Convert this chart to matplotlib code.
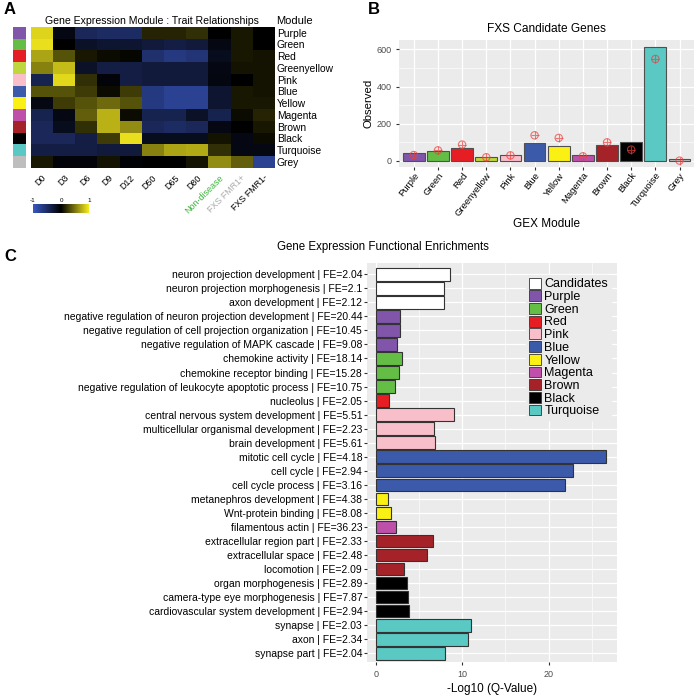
import numpy as np
import matplotlib.pyplot as plt
from matplotlib.colors import LinearSegmentedColormap
from matplotlib.patches import Patch

plt.rcParams['font.family'] = ['Liberation Sans', 'DejaVu Sans']

# --- panel A data ---
modules = ["Purple", "Green", "Red", "Greenyellow", "Pink", "Blue", "Yellow",
           "Magenta", "Brown", "Black", "Turquoise", "Grey"]
module_colors = ["#8055AA", "#64BE46", "#E61E23", "#BED73C", "#F8BECA", "#3C5AAA",
                 "#FAF014", "#BE50AA", "#A52328", "#000000", "#5AC8C3", "#BEBEBE"]
traits = ["D0", "D3", "D6", "D9", "D12", "D50", "D65", "D80",
          "Non-disease", "FXS FMR1+", "FXS FMR1-"]
trait_colors = ["black"] * 8 + ["#3CB43C", "#AAAAAA", "black"]
corr = np.array([
    [0.90, -0.10, -0.45, -0.50, -0.50, 0.15, 0.15, 0.20, 0.00, 0.10, 0.00],
    [0.95, 0.00, -0.20, -0.25, -0.25, -0.30, -0.35, -0.30, -0.10, 0.10, 0.00],
    [0.70, 0.35, 0.10, 0.05, 0.03, -0.55, -0.65, -0.60, -0.15, 0.10, 0.08],
    [0.55, 0.80, -0.20, -0.35, -0.35, -0.30, -0.30, -0.30, -0.10, 0.08, 0.08],
    [-0.40, 0.92, 0.20, -0.05, -0.35, -0.30, -0.30, -0.30, -0.08, 0.00, 0.08],
    [0.35, 0.35, 0.25, 0.05, 0.25, -0.65, -0.75, -0.75, -0.25, 0.10, 0.08],
    [-0.10, 0.25, 0.35, 0.45, 0.35, -0.65, -0.75, -0.75, -0.25, 0.10, 0.10],
    [-0.40, -0.10, 0.40, 0.75, 0.05, -0.40, -0.40, -0.20, -0.40, 0.05, 0.15],
    [-0.45, -0.15, 0.20, 0.75, 0.60, -0.45, -0.50, -0.45, -0.10, 0.00, 0.10],
    [-0.45, -0.45, -0.35, 0.25, 0.95, -0.15, -0.15, -0.15, 0.08, -0.10, 0.05],
    [-0.35, -0.35, -0.35, -0.30, -0.30, 0.55, 0.70, 0.72, 0.20, -0.10, -0.10],
    [0.10, -0.05, -0.05, 0.08, -0.03, 0.00, 0.00, 0.08, 0.60, 0.40, -0.75],
])

# --- panel B data ---
observed = [43, 54, 68, 20, 32, 95, 81, 32, 86, 100, 614, 8]
expected = [32, 57, 88, 20, 30, 138, 124, 25, 100, 61, 548, 2]

# --- panel C data ---
terms = [
    "neuron projection development | FE=2.04",
    "neuron projection morphogenesis | FE=2.1",
    "axon development | FE=2.12",
    "negative regulation of neuron projection development | FE=20.44",
    "negative regulation of cell projection organization | FE=10.45",
    "negative regulation of MAPK cascade | FE=9.08",
    "chemokine activity | FE=18.14",
    "chemokine receptor binding | FE=15.28",
    "negative regulation of leukocyte apoptotic process | FE=10.75",
    "nucleolus | FE=2.05",
    "central nervous system development | FE=5.51",
    "multicellular organismal development | FE=2.23",
    "brain development | FE=5.61",
    "mitotic cell cycle | FE=4.18",
    "cell cycle | FE=2.94",
    "cell cycle process | FE=3.16",
    "metanephros development | FE=4.38",
    "Wnt-protein binding | FE=8.08",
    "filamentous actin | FE=36.23",
    "extracellular region part | FE=2.33",
    "extracellular space | FE=2.48",
    "locomotion | FE=2.09",
    "organ morphogenesis | FE=2.89",
    "camera-type eye morphogenesis | FE=7.87",
    "cardiovascular system development | FE=2.94",
    "synapse | FE=2.03",
    "axon | FE=2.34",
    "synapse part | FE=2.04",
]
qvals = [8.54, 7.85, 7.85, 2.77, 2.77, 2.46, 3.0, 2.65, 2.19, 1.58, 9.0, 6.69, 6.81,
         26.6, 22.85, 21.9, 1.38, 1.73, 2.31, 6.58, 5.88, 3.23, 3.62, 3.69, 3.81,
         11.08, 10.65, 8.04]
term_group = ["Candidates"] * 3 + ["Purple"] * 3 + ["Green"] * 3 + ["Red"] + ["Pink"] * 3 + \
             ["Blue"] * 3 + ["Yellow"] * 2 + ["Magenta"] + ["Brown"] * 3 + ["Black"] * 3 + \
             ["Turquoise"] * 3
legend_groups = ["Candidates", "Purple", "Green", "Red", "Pink", "Blue", "Yellow",
                 "Magenta", "Brown", "Black", "Turquoise"]

color_of = dict(zip(modules, module_colors))
color_of["Candidates"] = "#FFFFFF"

W, H = 700, 697
fig = plt.figure(figsize=(7, 6.97), dpi=100)

def box(x0, y0, x1, y1):
    # pixel box -> figure coords
    return [x0 / W, 1 - y1 / H, (x1 - x0) / W, (y1 - y0) / H]

GREY_BG = "#EBEBEB"
TICK_C = "#4D4D4D"

# ---------------- Panel A ----------------
cmap = LinearSegmentedColormap.from_list("byk", ["#3A58C4", "#000000", "#F5EB1E"])
axA = fig.add_axes(box(30.7, 26.7, 274, 167.7))
axA.imshow(corr, cmap=cmap, vmin=-1, vmax=1, aspect="auto", interpolation="nearest")
axA.set_xticks(range(len(traits)))
axA.set_xticklabels(traits, rotation=45, ha="right", rotation_mode="anchor", fontsize=6.4)
for lab, c in zip(axA.get_xticklabels(), trait_colors):
    lab.set_color(c)
axA.set_yticks(range(len(modules)))
axA.set_yticklabels(modules, fontsize=7.4)
axA.yaxis.tick_right()
axA.tick_params(length=0, pad=2)
axA.tick_params(axis="x", pad=4)
for s in axA.spines.values():
    s.set_visible(False)
axA.set_title("Gene Expression Module : Trait Relationships", fontsize=7.6, pad=2)
fig.text(276.5 / W, 1 - 21.5 / H, "Module", fontsize=8, va="center", ha="left")

axS = fig.add_axes(box(13.3, 26.7, 26, 167.7))
axS.imshow(np.arange(len(modules))[:, None],
           cmap=LinearSegmentedColormap.from_list("mods", module_colors, N=len(modules)),
           aspect="auto", interpolation="nearest")
axS.axis("off")

axCb = fig.add_axes(box(33, 204, 89, 213))
axCb.imshow(np.linspace(-1, 1, 200)[None, :], cmap=cmap, aspect="auto", extent=[-1, 1, 0, 1])
axCb.set_yticks([])
axCb.xaxis.tick_top()
axCb.set_xticks([-1, 0, 1])
axCb.set_xticklabels(["-1", "0", "1"], fontsize=4.5)
axCb.tick_params(length=0, pad=1)
for s in axCb.spines.values():
    s.set_visible(False)

# ---------------- Panel B ----------------
axB = fig.add_axes(box(399.3, 40, 694, 166.7))
axB.set_facecolor(GREY_BG)
xpos = np.arange(1, len(modules) + 1)
axB.bar(xpos, observed, width=0.9, color=module_colors, edgecolor="#505050", linewidth=0.8, zorder=3)
axB.scatter(xpos, expected, s=28, facecolors="none", edgecolors="#E8413C", linewidths=0.8,
            alpha=0.7, marker="o", zorder=4)
axB.scatter(xpos, expected, s=28, color="#E8413C", linewidths=0.8, alpha=0.7, marker="+", zorder=4)
axB.set_xlim(0.4, 12.6)
axB.set_ylim(-30.7, 650)
axB.set_xticks(xpos)
axB.set_xticklabels(modules, rotation=52, ha="right", rotation_mode="anchor", fontsize=6.8)
axB.set_yticks([0, 200, 400, 600])
axB.set_yticks([100, 300, 500], minor=True)
axB.tick_params(axis="y", labelsize=6.5, labelcolor=TICK_C, color="#333333", length=2)
axB.tick_params(axis="y", which="minor", length=0)
axB.tick_params(axis="x", color="#333333", length=2, pad=1)
axB.grid(True, which="major", color="white", linewidth=0.9, zorder=0)
axB.grid(True, which="minor", axis="y", color="white", linewidth=0.45, zorder=0)
axB.set_axisbelow(True)
for s in axB.spines.values():
    s.set_visible(False)
axB.set_ylabel("Observed", fontsize=8.2, labelpad=2)
axB.set_xlabel("GEX Module", fontsize=8.5, labelpad=0)
axB.set_title("FXS Candidate Genes", fontsize=8.6, pad=6)

# ---------------- Panel C ----------------
axC = fig.add_axes(box(367, 263, 617, 662))
axC.set_facecolor(GREY_BG)
ypos = np.arange(len(terms))
axC.barh(ypos, qvals, height=0.9, color=[color_of[g] for g in term_group],
         edgecolor="#333333", linewidth=0.8, zorder=3)
axC.set_ylim(len(terms) - 0.38, -0.8)
axC.set_xlim(-1.0, 27.9)
axC.set_yticks(ypos)
axC.set_yticklabels(terms, fontsize=7.5)
axC.set_xticks([0, 10, 20])
axC.set_xticks([5, 15, 25], minor=True)
axC.tick_params(axis="x", labelsize=6.5, labelcolor=TICK_C, color="#333333", length=2)
axC.tick_params(axis="x", which="minor", length=0)
axC.tick_params(axis="y", color="#333333", length=2, pad=1.5)
axC.grid(True, which="major", color="white", linewidth=0.9, zorder=0)
axC.grid(True, which="minor", axis="x", color="white", linewidth=0.45, zorder=0)
axC.set_axisbelow(True)
for s in axC.spines.values():
    s.set_visible(False)
axC.set_xlabel("-Log10 (Q-Value)", fontsize=8.5, labelpad=3)
handles = [Patch(facecolor=color_of[g], edgecolor="#333333", linewidth=0.6, label=g)
           for g in legend_groups]
leg = axC.legend(handles=handles, loc="upper left", bbox_to_anchor=(0.612, 0.985), fontsize=9,
                 frameon=True, facecolor=GREY_BG, edgecolor=GREY_BG, framealpha=1,
                 handlelength=1.0, handleheight=0.95, handletextpad=0.25, labelspacing=0.0,
                 borderpad=0.2)
fig.text(383 / W, 1 - 247 / H, "Gene Expression Functional Enrichments", fontsize=8.3,
         ha="center", va="center")

# panel letters
fig.text(4 / W, 1 - 10 / H, "A", fontsize=12, fontweight="bold", va="center")
fig.text(368 / W, 1 - 9 / H, "B", fontsize=12, fontweight="bold", va="center")
fig.text(4 / W, 1 - 257 / H, "C", fontsize=12, fontweight="bold", va="center")

fig.savefig("out.png", dpi=100)
